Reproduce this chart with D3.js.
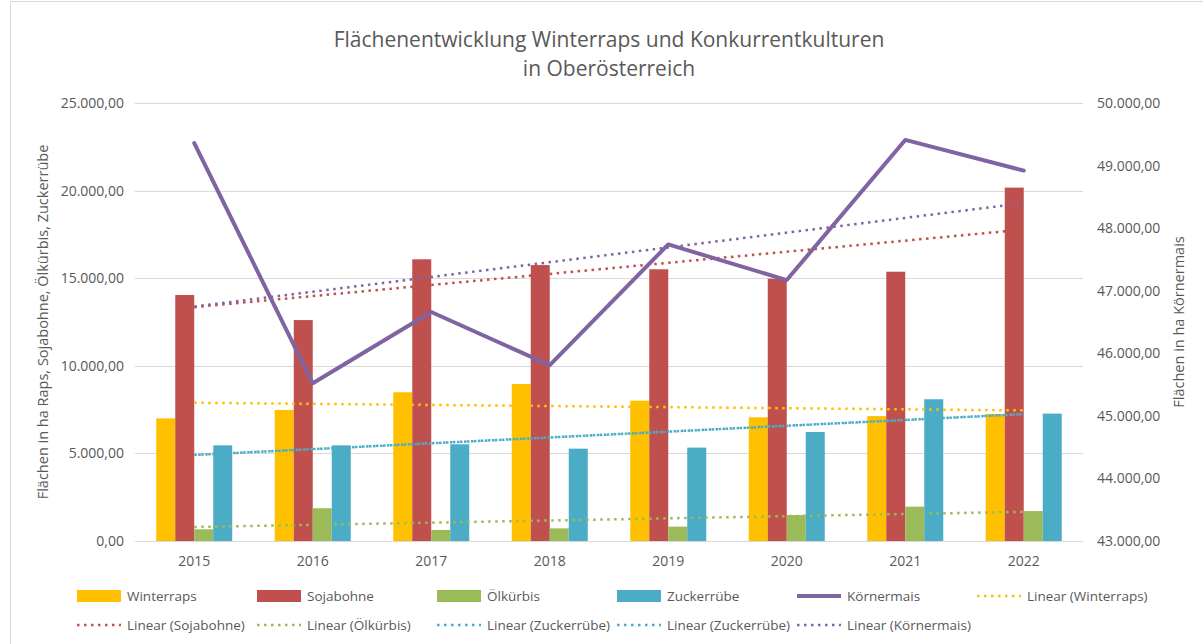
<!DOCTYPE html>
<html>
<head>
<meta charset="utf-8">
<script src="https://cdn.jsdelivr.net/npm/d3@7"></script>
<style>
  body { margin: 0; background: #fff; }
  text { font-family: "Open Sans", sans-serif; fill: #595959; }
</style>
</head>
<body>
<div id="vis"></div>
<script>
// data
var years = ['2015', '2016', '2017', '2018', '2019', '2020', '2021', '2022'];
var barSeries = ['Winterraps', 'Sojabohne', 'Ölkürbis', 'Zuckerrübe'];
var winterraps = [7000, 7480, 8490, 8960, 8010, 7060, 7130, 7250];
var sojabohne = [14040, 12610, 16080, 15750, 15510, 14970, 15370, 20170];
var oelkuerbis = [670, 1870, 630, 720, 820, 1480, 1960, 1710];
var zuckerruebe = [5460, 5460, 5520, 5270, 5330, 6220, 8090, 7270];
var koernermais = [49360, 45520, 46660, 45810, 47740, 47170, 49410, 48920];
var leftTicks = [0, 5000, 10000, 15000, 20000, 25000];
var rightTicks = [43000, 44000, 45000, 46000, 47000, 48000, 49000, 50000];

var colors = {
    'Winterraps': '#FFC000',
    'Sojabohne': '#C0504D',
    'Ölkürbis': '#9BBB59',
    'Zuckerrübe': '#4BACC6',
    'Körnermais': '#8064A2'
};

var svgW = 1203, svgH = 644;
var plotL = 135, plotR = 1083, plotT = 103, plotB = 541;

var svg = d3.select('#vis').append('svg').attr('width', svgW).attr('height', svgH);

// chart border
svg.append('rect').attr('x', 10.5).attr('y', 1.5).attr('width', 1200).attr('height', 700)
    .style('fill', 'none').style('stroke', '#d9d9d9');

// title
svg.append('text').attr('x', 609).attr('y', 47).attr('text-anchor', 'middle')
    .style('font-size', '21px').text('Flächenentwicklung Winterraps und Konkurrentkulturen');
svg.append('text').attr('x', 609).attr('y', 76).attr('text-anchor', 'middle')
    .style('font-size', '21px').text('in Oberösterreich');

var x0 = d3.scaleBand().domain(years).range([plotL, plotR]);
var x1 = d3.scaleBand().domain(barSeries).range([0, 76]);
var barOff = (x0.bandwidth() - 76) / 2;
var y = d3.scaleLinear().domain([0, 25000]).range([plotB, plotT]);
var y2 = d3.scaleLinear().domain([43000, 50000]).range([plotB, plotT]);

var fmt = function (v) {
    return d3.format(',.2f')(v).replace(/,/g, 'X').replace(/\./g, ',').replace(/X/g, '.');
};

var g = svg.append('g');

// grid lines
g.selectAll('.grid').data(leftTicks).enter().append('line').attr('class', 'grid')
    .attr('x1', plotL).attr('x2', plotR)
    .attr('y1', function (d) { return Math.round(y(d)) + 0.5; })
    .attr('y2', function (d) { return Math.round(y(d)) + 0.5; })
    .style('stroke', '#d9d9d9').style('stroke-width', 1);

// left axis labels
g.selectAll('.yLabel').data(leftTicks).enter().append('text').attr('class', 'yLabel')
    .attr('x', 124).attr('y', function (d) { return y(d) + 5; })
    .attr('text-anchor', 'end').style('font-size', '14px').text(fmt);

// right axis labels
g.selectAll('.y2Label').data(rightTicks).enter().append('text').attr('class', 'y2Label')
    .attr('x', 1097).attr('y', function (d) { return y2(d) + 5; })
    .style('font-size', '14px').text(fmt);

// x labels
g.selectAll('.xLabel').data(years).enter().append('text').attr('class', 'xLabel')
    .attr('x', function (d) { return x0(d) + x0.bandwidth() / 2; }).attr('y', 566)
    .attr('text-anchor', 'middle').style('font-size', '14px').text(String);

// axis titles
svg.append('text').attr('transform', 'translate(48,' + (plotT + plotB) / 2 + ') rotate(-90)')
    .attr('text-anchor', 'middle').style('font-size', '14.5px')
    .text('Flächen in ha Raps, Sojabohne, Ölkürbis, Zuckerrübe');
svg.append('text').attr('transform', 'translate(1184,' + (plotT + plotB) / 2 + ') rotate(-90)')
    .attr('text-anchor', 'middle').style('font-size', '14.5px')
    .text('Flächen in ha Körnermais');

// bars
var barData = [winterraps, sojabohne, oelkuerbis, zuckerruebe];
barSeries.forEach(function (name, s) {
    g.selectAll('.bar' + s).data(barData[s]).enter().append('rect').attr('class', 'bar' + s)
        .attr('x', function (d, i) { return x0(years[i]) + barOff + x1(name); })
        .attr('y', function (d) { return y(d); })
        .attr('width', x1.bandwidth())
        .attr('height', function (d) { return y(0) - y(d); })
        .style('fill', colors[name]);
});

// linear trend (least squares) over the category index
function trend(vals) {
    var n = vals.length, mx = (n - 1) / 2, my = d3.mean(vals), sxy = 0, sxx = 0;
    vals.forEach(function (v, i) { sxy += (i - mx) * (v - my); sxx += (i - mx) * (i - mx); });
    var b = sxy / sxx, a = my - b * mx;
    return [a, a + b * (n - 1)];
}

var cx = function (i) { return x0(years[i]) + x0.bandwidth() / 2; };

function trendLine(vals, scale, color, offset) {
    var t = trend(vals);
    g.append('line')
        .attr('x1', cx(0)).attr('y1', scale(t[0]))
        .attr('x2', cx(vals.length - 1)).attr('y2', scale(t[1]))
        .style('stroke', color).style('stroke-width', 2.5)
        .style('stroke-dasharray', '2.5,4.5').style('stroke-dashoffset', offset || 0);
}

trendLine(winterraps, y, colors['Winterraps']);
trendLine(sojabohne, y, colors['Sojabohne']);
trendLine(oelkuerbis, y, colors['Ölkürbis']);
trendLine(zuckerruebe, y, colors['Zuckerrübe']);
trendLine(zuckerruebe, y, colors['Zuckerrübe'], 3);

// Körnermais line
var line = d3.line().x(function (d, i) { return cx(i); }).y(function (d) { return y2(d); });
g.append('path').datum(koernermais).attr('d', line)
    .style('fill', 'none').style('stroke', colors['Körnermais']).style('stroke-width', 4)
    .style('stroke-linejoin', 'round').style('stroke-linecap', 'round');

trendLine(koernermais, y2, colors['Körnermais']);

// legend
var legendItems = [
    { name: 'Winterraps', type: 'bar', color: colors['Winterraps'] },
    { name: 'Sojabohne', type: 'bar', color: colors['Sojabohne'] },
    { name: 'Ölkürbis', type: 'bar', color: colors['Ölkürbis'] },
    { name: 'Zuckerrübe', type: 'bar', color: colors['Zuckerrübe'] },
    { name: 'Körnermais', type: 'line', color: colors['Körnermais'] },
    { name: 'Linear (Winterraps)', type: 'dot', color: colors['Winterraps'] },
    { name: 'Linear (Sojabohne)', type: 'dot', color: colors['Sojabohne'] },
    { name: 'Linear (Ölkürbis)', type: 'dot', color: colors['Ölkürbis'] },
    { name: 'Linear (Zuckerrübe)', type: 'dot', color: colors['Zuckerrübe'] },
    { name: 'Linear (Zuckerrübe)', type: 'dot', color: colors['Zuckerrübe'] },
    { name: 'Linear (Körnermais)', type: 'dot', color: colors['Körnermais'] }
];

var leg = svg.append('g');
legendItems.forEach(function (d, i) {
    var lx = 77 + (i % 6) * 180;
    var ly = i < 6 ? 596 : 625;
    if (d.type === 'bar') {
        leg.append('rect').attr('x', lx).attr('y', ly - 6).attr('width', 44).attr('height', 12)
            .style('fill', d.color);
    } else {
        leg.append('line').attr('x1', lx).attr('x2', lx + 44).attr('y1', ly).attr('y2', ly)
            .style('stroke', d.color)
            .style('stroke-width', d.type === 'line' ? 4 : 2.5)
            .style('stroke-dasharray', d.type === 'line' ? null : '2.5,4.5');
    }
    leg.append('text').attr('x', lx + 50).attr('y', ly + 5).style('font-size', '13.5px').text(d.name);
});
</script>
</body>
</html>
